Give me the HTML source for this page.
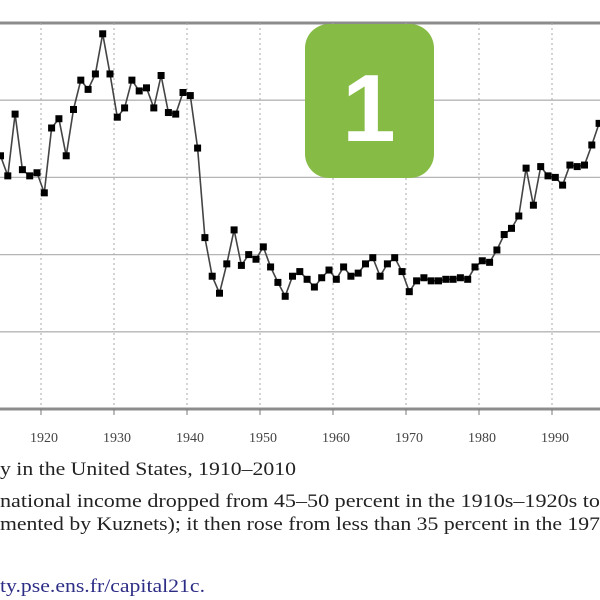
<!DOCTYPE html>
<html><head><meta charset="utf-8"><style>
html,body{margin:0;padding:0;background:#fff;width:600px;height:600px;overflow:hidden}
svg{display:block}
</style></head><body>
<svg id="chart" width="600" height="600" viewBox="0 0 600 600">
<g id="grid"></g><g id="series"></g><g id="axis"></g>
<g>
<rect x="305" y="24" width="129" height="154" rx="24" fill="#86bc45"/>
<text x="369" y="141" text-anchor="middle" font-family="Liberation Sans, sans-serif" font-weight="bold" font-size="96" fill="#fff">1</text>
</g>
<text x="0" y="475" font-family="Liberation Serif, serif" font-size="19" fill="#222" textLength="296" lengthAdjust="spacingAndGlyphs">y in the United States, 1910–2010</text>
<text x="0" y="507" font-family="Liberation Serif, serif" font-size="19" fill="#222" textLength="600" lengthAdjust="spacingAndGlyphs">national income dropped from 45–50 percent in the 1910s–1920s to</text>
<text x="0" y="530" font-family="Liberation Serif, serif" font-size="19" fill="#222" textLength="600" lengthAdjust="spacingAndGlyphs">mented by Kuznets); it then rose from less than 35 percent in the 197</text>
<text x="0" y="592" font-family="Liberation Serif, serif" font-size="19" fill="#2d2d86" textLength="205" lengthAdjust="spacingAndGlyphs">ty.pse.ens.fr/capital21c.</text>
</svg>
<script>
const years = [1914,1915,1916,1917,1918,1919,1920,1921,1922,1923,1924,1925,1926,1927,1928,1929,1930,1931,1932,1933,1934,1935,1936,1937,1938,1939,1940,1941,1942,1943,1944,1945,1946,1947,1948,1949,1950,1951,1952,1953,1954,1955,1956,1957,1958,1959,1960,1961,1962,1963,1964,1965,1966,1967,1968,1969,1970,1971,1972,1973,1974,1975,1976,1977,1978,1979,1980,1981,1982,1983,1984,1985,1986,1987,1988,1989,1990,1991,1992,1993,1994,1995,1996];
const shares = [41.4,40.1,44.1,40.5,40.1,40.3,39.0,43.2,43.8,41.4,44.4,46.3,45.7,46.7,49.3,46.7,43.9,44.5,46.3,45.6,45.8,44.5,46.6,44.2,44.1,45.5,45.3,41.9,36.1,33.6,32.5,34.4,36.6,34.3,35.0,34.7,35.5,34.2,33.2,32.3,33.6,33.9,33.4,32.9,33.5,34.0,33.4,34.2,33.6,33.8,34.4,34.8,33.6,34.4,34.8,33.9,32.6,33.3,33.5,33.3,33.3,33.4,33.4,33.5,33.4,34.2,34.6,34.5,35.3,36.3,36.7,37.5,40.6,38.2,40.7,40.1,40.0,39.5,40.8,40.7,40.8,42.1,43.5];
const yTicks = [50,45,40,35,30,25];
const xTickYears = [1920,1930,1940,1950,1960,1970,1980,1990];
const NS='http://www.w3.org/2000/svg';
function xs(y){return 44.3+7.3*(y-1920);}
function ys(v){return 23+(50-v)*15.44;}
function mk(tag,attrs,parent){const e=document.createElementNS(NS,tag);for(const k in attrs)e.setAttribute(k,attrs[k]);parent.appendChild(e);return e;}
const grid=document.getElementById('grid'),ser=document.getElementById('series'),ax=document.getElementById('axis');
yTicks.forEach(v=>{
  const l=mk('line',{x1:0,x2:600,y1:ys(v),y2:ys(v),stroke:v===50||v===25?'#8c8c8c':'#b5b5b5','stroke-width':v===50||v===25?3:1.3},v===25?ax:grid);
  
  
});
const vx=[1910,1920,1930,1940,1950,1960,1970,1980,1990,2000];
vx.forEach(y=>{
  const x=xs(y)-3.3;
  const l=mk('line',{x1:x,x2:x,y1:23,y2:409,stroke:'#aaa','stroke-width':1,'stroke-dasharray':'2,3'},grid);
  
  
});
xTickYears.forEach(y=>{
  const x=xs(y)-3.3;
  const t=mk('line',{x1:x,x2:x,y1:409,y2:415,stroke:'#777','stroke-width':1},ax);
  
  
  const lb=mk('text',{x:x+3,y:442,'text-anchor':'middle','font-family':'Liberation Serif, serif','font-size':14,fill:'#444'},ax);
  lb.textContent=y;
  
  
});
const pts=years.map((y,i)=>xs(y)+','+ys(shares[i])).join(' ');
const pl=mk('polyline',{points:pts,fill:'none',stroke:'#444','stroke-width':1.6},ser);


years.forEach((y,i)=>{
  const r=mk('rect',{x:xs(y)-3.5,y:ys(shares[i])-3.5,width:7,height:7,fill:'#000'},ser);
  
  
});
</script>
</body></html>
